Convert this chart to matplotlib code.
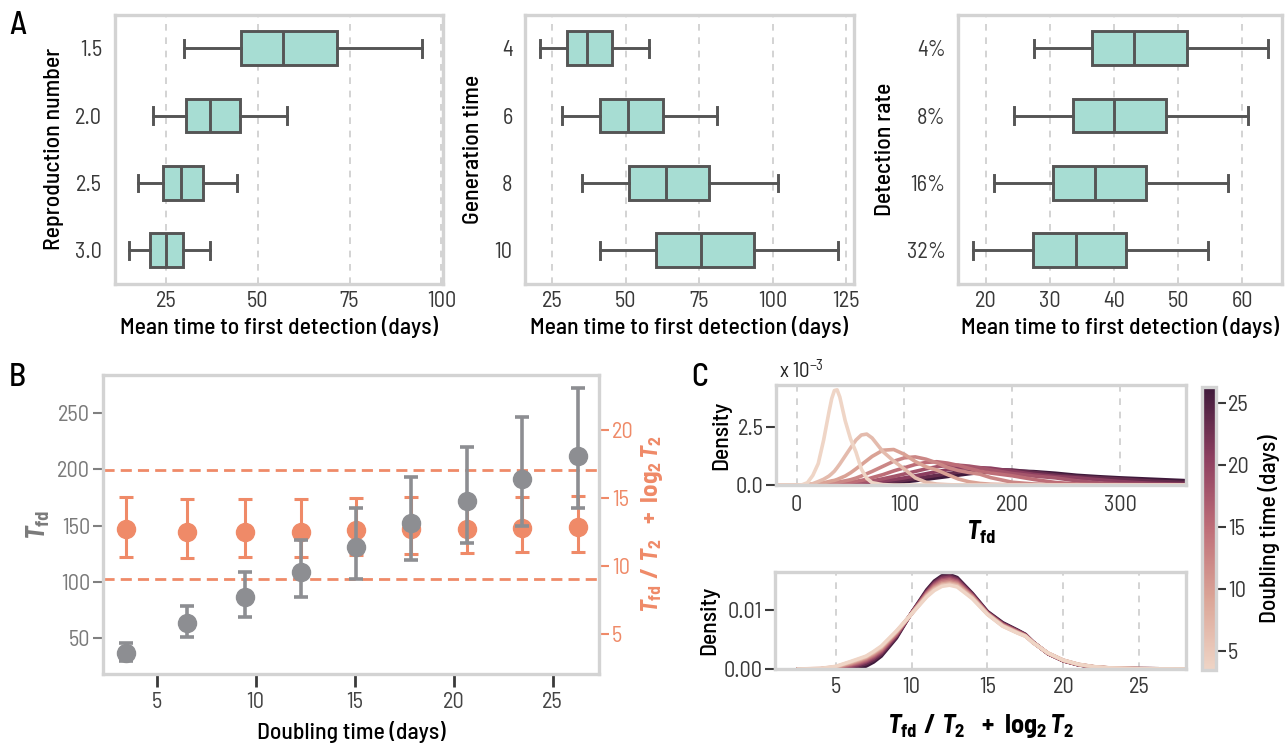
import numpy as np
import matplotlib
matplotlib.use("Agg")
import matplotlib.pyplot as plt
import matplotlib.font_manager as fm
from matplotlib.colors import Normalize, LinearSegmentedColormap
from matplotlib.cm import ScalarMappable

# ---------------- data ----------------
# Panel A: box statistics (whisker low, Q1, median, Q3, whisker high)
repro_labels = ["1.5", "2.0", "2.5", "3.0"]
repro_lo = [29.9, 21.4, 17.4, 15.1]
repro_q1 = [45.4, 30.4, 24.3, 20.7]
repro_med = [56.8, 37.1, 29.2, 25.0]
repro_q3 = [71.5, 45.2, 35.0, 29.6]
repro_hi = [94.6, 58.0, 44.3, 37.0]

gen_labels = ["4", "6", "8", "10"]
gen_lo = [21.0, 28.5, 35.2, 41.4]
gen_q1 = [30.2, 41.3, 51.3, 60.5]
gen_med = [36.9, 51.0, 63.8, 75.5]
gen_q3 = [45.3, 62.6, 78.5, 93.8]
gen_hi = [57.9, 81.0, 102.0, 122.1]

det_labels = ["4%", "8%", "16%", "32%"]
det_lo = [27.5, 24.3, 21.2, 18.0]
det_q1 = [36.5, 33.5, 30.4, 27.3]
det_med = [43.1, 40.0, 37.0, 34.1]
det_q3 = [51.3, 48.1, 45.0, 41.9]
det_hi = [64.0, 60.9, 57.8, 54.7]

# Panel B
doubling_time = [3.46, 6.54, 9.45, 12.27, 15.05, 17.87, 20.68, 23.47, 26.30]
tfd_mean = [36.7, 63.3, 86.9, 108.8, 130.6, 151.9, 171.4, 191.5, 211.6]
tfd_low = [30.0, 50.9, 69.2, 86.3, 102.9, 119.4, 134.8, 149.9, 165.8]
tfd_high = [45.6, 78.7, 109.1, 137.1, 165.8, 192.7, 219.3, 245.9, 271.6]
norm_mean = [12.67, 12.50, 12.50, 12.50, 12.62, 12.70, 12.72, 12.75, 12.82]
norm_low = [10.61, 10.54, 10.61, 10.66, 10.78, 10.86, 10.96, 10.98, 11.03]
norm_high = [15.05, 14.88, 14.88, 14.88, 15.00, 15.02, 15.02, 15.07, 15.12]
norm_band = [9.0, 17.0]

# Panel C top: density of T_fd (units of 1e-3), one row per doubling time
tfd_grid = [-20, 0, 5, 10, 15, 20, 25, 30, 32.5, 35, 37.5, 40, 45, 50, 55, 60, 65, 70,
            80, 90, 100, 110, 120, 130, 140, 150, 160, 170, 180, 200, 220, 240, 260,
            280, 300, 330, 360]
tfd_density_e3 = [
    [0, 0, 0.01, 0.10, 0.42, 0.93, 1.95, 3.18, 3.75, 4.10, 4.13, 3.82, 2.79, 2.00, 1.43,
     0.69, 0.29, 0.10, 0.015, 0, 0, 0, 0, 0, 0, 0, 0, 0, 0, 0, 0, 0, 0, 0, 0, 0, 0],
    [0, 0, 0.005, 0.02, 0.06, 0.15, 0.25, 0.39, 0.49, 0.60, 0.75, 0.91, 1.26, 1.61, 1.95,
     2.17, 2.21, 2.04, 1.45, 1.04, 0.69, 0.31, 0.12, 0.04, 0.015, 0, 0, 0, 0, 0, 0, 0, 0,
     0, 0, 0, 0],
    [0, 0, 0.005, 0.015, 0.03, 0.06, 0.10, 0.15, 0.18, 0.20, 0.24, 0.29, 0.39, 0.53, 0.70,
     0.88, 1.06, 1.24, 1.51, 1.54, 1.33, 1.02, 0.79, 0.65, 0.45, 0.26, 0.14, 0.07, 0.033,
     0.009, 0, 0, 0, 0, 0, 0, 0],
    [0, 0, 0.003, 0.01, 0.02, 0.03, 0.06, 0.08, 0.09, 0.10, 0.12, 0.14, 0.18, 0.23, 0.30,
     0.39, 0.49, 0.59, 0.81, 1.03, 1.18, 1.22, 1.12, 0.96, 0.76, 0.63, 0.54, 0.47, 0.32,
     0.12, 0.044, 0.014, 0.004, 0, 0, 0, 0],
    [0, 0, 0.001, 0.007, 0.012, 0.022, 0.034, 0.046, 0.053, 0.061, 0.07, 0.079, 0.10, 0.13,
     0.16, 0.20, 0.25, 0.32, 0.45, 0.61, 0.75, 0.89, 0.98, 1.01, 0.95, 0.85, 0.72, 0.60,
     0.52, 0.40, 0.24, 0.11, 0.045, 0.018, 0.008, 0.002, 0],
    [0, 0.001, 0.003, 0.006, 0.008, 0.015, 0.022, 0.030, 0.033, 0.038, 0.044, 0.049, 0.062,
     0.076, 0.097, 0.12, 0.15, 0.18, 0.27, 0.37, 0.48, 0.59, 0.70, 0.79, 0.85, 0.86, 0.82,
     0.75, 0.66, 0.50, 0.39, 0.31, 0.18, 0.092, 0.044, 0.017, 0.005],
    [0, 0.001, 0.002, 0.003, 0.005, 0.008, 0.011, 0.016, 0.018, 0.021, 0.025, 0.030, 0.038,
     0.049, 0.060, 0.075, 0.090, 0.11, 0.17, 0.24, 0.31, 0.40, 0.49, 0.58, 0.66, 0.72, 0.75,
     0.75, 0.73, 0.60, 0.46, 0.37, 0.31, 0.23, 0.15, 0.07, 0.03],
    [0, 0.001, 0.001, 0.002, 0.002, 0.003, 0.005, 0.007, 0.008, 0.010, 0.012, 0.015, 0.02,
     0.027, 0.035, 0.044, 0.056, 0.069, 0.10, 0.16, 0.21, 0.28, 0.35, 0.42, 0.49, 0.56, 0.61,
     0.65, 0.67, 0.65, 0.55, 0.44, 0.36, 0.31, 0.26, 0.17, 0.11],
    [0, 0, 0, 0, 0, 0, 0, 0, 0, 0, 0, 0, 0.002, 0.006, 0.013, 0.019, 0.029, 0.039, 0.066,
     0.10, 0.14, 0.19, 0.25, 0.31, 0.37, 0.43, 0.49, 0.54, 0.58, 0.61, 0.58, 0.51, 0.42,
     0.36, 0.31, 0.25, 0.19],
]

# Panel C bottom: density of T_fd/T2 + log2 T2 (units of 1e-3)
z_grid = [2.5, 4, 5, 6, 6.5, 7, 7.5, 8, 9, 10, 11, 11.5, 12, 12.5, 13, 14, 15, 16, 17,
          17.5, 18, 19, 20, 21, 22, 23, 25, 28]
z_density_e3 = [
    [0, 0.1, 0.45, 1.3, 1.75, 2.2, 3.0, 3.9, 6.5, 9.4, 12.3, 13.4, 14.1, 14.3, 14.0, 12.0,
     9.3, 7.3, 6.1, 5.6, 4.5, 2.7, 1.5, 0.8, 0.4, 0.2, 0.05, 0.01],
    [0, 0.08, 0.4, 1.2, 1.62, 2.1, 2.85, 3.75, 6.4, 9.4, 12.45, 13.6, 14.3, 14.5, 14.2, 12.1,
     9.35, 7.35, 6.15, 5.6, 4.5, 2.7, 1.5, 0.8, 0.4, 0.2, 0.05, 0.01],
    [0, 0.06, 0.33, 1.05, 1.48, 1.95, 2.7, 3.6, 6.3, 9.45, 12.6, 13.8, 14.5, 14.7, 14.4,
     12.25, 9.4, 7.4, 6.2, 5.65, 4.5, 2.7, 1.5, 0.78, 0.39, 0.19, 0.05, 0.01],
    [0, 0.04, 0.27, 0.9, 1.3, 1.8, 2.5, 3.4, 6.2, 9.45, 12.75, 14.0, 14.75, 14.95, 14.6,
     12.35, 9.45, 7.5, 6.25, 5.7, 4.55, 2.65, 1.45, 0.76, 0.38, 0.18, 0.05, 0.01],
    [0, 0.03, 0.2, 0.75, 1.12, 1.6, 2.3, 3.2, 6.0, 9.5, 12.9, 14.2, 15.0, 15.2, 14.8, 12.45,
     9.5, 7.55, 6.3, 5.7, 4.55, 2.65, 1.45, 0.75, 0.37, 0.17, 0.05, 0.01],
    [0, 0.02, 0.14, 0.6, 0.95, 1.4, 2.1, 3.0, 5.9, 9.5, 13.0, 14.4, 15.2, 15.4, 15.0, 12.55,
     9.55, 7.6, 6.4, 5.75, 4.55, 2.65, 1.45, 0.74, 0.37, 0.17, 0.05, 0.01],
    [0, 0.01, 0.08, 0.4, 0.75, 1.2, 1.85, 2.8, 5.7, 9.55, 13.15, 14.6, 15.45, 15.65, 15.2,
     12.65, 9.6, 7.7, 6.45, 5.8, 4.6, 2.6, 1.4, 0.72, 0.36, 0.16, 0.05, 0.01],
    [0, 0, 0.04, 0.2, 0.5, 0.9, 1.55, 2.5, 5.5, 9.6, 13.3, 14.8, 15.7, 15.9, 15.4, 12.8,
     9.7, 7.8, 6.5, 5.85, 4.6, 2.6, 1.4, 0.71, 0.35, 0.15, 0.05, 0.01],
    [0, 0, 0, 0, 0.05, 0.5, 1.2, 2.2, 5.3, 9.6, 13.5, 15.0, 15.9, 16.1, 15.6, 12.9, 9.8,
     7.9, 6.6, 5.9, 4.6, 2.6, 1.4, 0.7, 0.35, 0.15, 0.05, 0.01],
]

# ---------------- fonts ----------------
def pick_font():
    ttf = fm.fontManager.ttflist
    names = {f.name for f in ttf}
    for c in ["Barlow Semi Condensed", "Barlow Condensed", "Roboto Condensed",
              "Liberation Sans Narrow", "Arial Narrow", "Open Sans Condensed"]:
        if c in names:
            return c, "normal"
    for fam in ["Roboto", "Noto Sans", "Open Sans", "DejaVu Sans"]:
        st = {str(f.stretch) for f in ttf if f.name == fam}
        for s in ("semi-condensed", "condensed"):
            if s in st:
                return fam, s
    return "Roboto", "normal"

FONT, STRETCH = pick_font()
plt.rcParams["font.family"] = [FONT, "DejaVu Sans"]
plt.rcParams["font.stretch"] = STRETCH
plt.rcParams["mathtext.fontset"] = "custom"
plt.rcParams["mathtext.rm"] = FONT + ":bold"
plt.rcParams["mathtext.it"] = FONT + ":italic:bold"
plt.rcParams["mathtext.bf"] = FONT + ":bold"

# ---------------- style ----------------
W, H = 1286, 744
SPINE = "#d3d3d3"
BOX_FACE = "#a7ddd3"
BOX_EDGE = "#555555"
GRAY = "#8d8e92"
ORANGE = "#ef8a68"
TXT = "#383838"
GRID = "#cccccc"
TICK_FS = 16
LAB_FS = 17
LAB_W = "medium"
SPINE_LW = 2.4

fig = plt.figure(figsize=(W / 100, H / 100), dpi=100)


def ax_at(l, t, r, b):
    return fig.add_axes([l / W, 1 - b / H, (r - l) / W, (b - t) / H])


def style_spines(ax):
    for s in ax.spines.values():
        s.set_color(SPINE)
        s.set_linewidth(SPINE_LW)


def box_panel(ax, labels, lo, q1, med, q3, hi, xlim, xticks, ylabel):
    stats = [dict(whislo=lo[i], q1=q1[i], med=med[i], q3=q3[i], whishi=hi[i], fliers=[])
             for i in range(len(labels))]
    lp = dict(color=BOX_EDGE, linewidth=2.1)
    ax.bxp(stats, positions=range(len(labels)), widths=0.5, orientation="horizontal",
           patch_artist=True, showfliers=False, capwidths=0.25,
           boxprops=dict(facecolor=BOX_FACE, edgecolor=BOX_EDGE, linewidth=2.1),
           medianprops=lp, whiskerprops=lp, capprops=lp)
    ax.set_ylim(len(labels) - 0.5, -0.5)
    ax.set_yticks(range(len(labels)), labels)
    ax.set_xlim(*xlim)
    ax.set_xticks(xticks)
    ax.set_axisbelow(True)
    ax.xaxis.grid(True, linestyle=(0, (4, 4)), color=GRID, linewidth=1.2)
    ax.tick_params(axis="y", length=0, labelsize=TICK_FS, labelcolor=TXT, pad=9)
    ax.tick_params(axis="x", length=0, labelsize=TICK_FS, labelcolor=TXT, pad=5)
    ax.set_xlabel("Mean time to first detection (days)", fontsize=LAB_FS, weight=LAB_W,
                  labelpad=3)
    ax.set_ylabel(ylabel, fontsize=LAB_FS, weight=LAB_W, labelpad=8)
    style_spines(ax)


axA1 = ax_at(114.5, 14.5, 442.5, 284)
box_panel(axA1, repro_labels, repro_lo, repro_q1, repro_med, repro_q3, repro_hi,
          (11.05, 100.3), [25, 50, 75, 100], "Reproduction number")
axA2 = ax_at(525, 14.5, 854, 284)
box_panel(axA2, gen_labels, gen_lo, gen_q1, gen_med, gen_q3, gen_hi,
          (15.8, 127.7), [25, 50, 75, 100, 125], "Generation time")
axA3 = ax_at(958, 14.5, 1282, 284)
box_panel(axA3, det_labels, det_lo, det_q1, det_med, det_q3, det_hi,
          (15.6, 66.2), [20, 30, 40, 50, 60], "Detection rate")

# ---------------- panel B ----------------
axB = ax_at(102.7, 375, 599.3, 674)
axB2 = axB.twinx()
axB.set_zorder(axB2.get_zorder() + 1)
axB.patch.set_visible(False)

for v in norm_band:
    axB2.axhline(v, color=ORANGE, lw=2, linestyle=(0, (4, 2.2)), zorder=1)
nm = np.array(norm_mean)
axB2.errorbar(doubling_time, nm, yerr=[nm - np.array(norm_low), np.array(norm_high) - nm],
              fmt="o", color=ORANGE, ms=13, elinewidth=2.2, capsize=5, capthick=2.2, zorder=3)
tm = np.array(tfd_mean)
axB.errorbar(doubling_time, tm, yerr=[tm - np.array(tfd_low), np.array(tfd_high) - tm],
             fmt="o", color=GRAY, ms=13, elinewidth=2.6, capsize=5, capthick=2.6, zorder=3)

axB.set_xlim(2.28, 27.36)
axB.set_ylim(18.4, 283.4)
axB2.set_ylim(2.03, 24.02)
axB.set_xticks([5, 10, 15, 20, 25])
axB.set_yticks([50, 100, 150, 200, 250])
axB2.set_yticks([5, 10, 15, 20])
axB.tick_params(axis="x", length=9, width=2, color="#3a3a3a", labelcolor="#444444",
                labelsize=TICK_FS, pad=4)
axB.tick_params(axis="y", length=7, width=1.5, color="#808080", labelcolor="#7a7a7a",
                labelsize=TICK_FS, pad=2)
axB2.tick_params(axis="y", length=7, width=1.5, color=ORANGE, labelcolor=ORANGE,
                 labelsize=TICK_FS, pad=2)
style_spines(axB)
for s in axB2.spines.values():
    s.set_visible(False)
axB.set_xlabel("Doubling time (days)", fontsize=LAB_FS, weight=LAB_W, labelpad=6)
axB.set_ylabel(r"$T_{\mathrm{fd}}$", fontsize=19, color="#7a7a7a", labelpad=4)
axB2.set_ylabel(r"$T_{\mathrm{fd}}\ /\ T_2\ \ +\ \mathrm{log}_2\,T_2$", fontsize=18,
                color=ORANGE, labelpad=4)

# ---------------- panel C ----------------
cmap = LinearSegmentedColormap.from_list(
    "doubling", ["#efd5c6", "#dba597", "#be6e78", "#8d3f60", "#3f1a3b"])
cnorm = Normalize(vmin=min(doubling_time), vmax=max(doubling_time))

axC1 = ax_at(776, 385, 1185.7, 485)
for i in reversed(range(len(doubling_time))):
    axC1.plot(tfd_grid, tfd_density_e3[i], color=cmap(cnorm(doubling_time[i])), lw=2.6,
              solid_capstyle="round")
axC1.set_xlim(-19.2, 361)
axC1.set_ylim(0, 4.34)
axC1.set_xticks([0, 100, 200, 300])
axC1.set_yticks([0, 2.5], ["0.0", "2.5"])
axC1.set_axisbelow(True)
axC1.xaxis.grid(True, linestyle=(0, (4, 4)), color=GRID, linewidth=1.2)
axC1.tick_params(axis="x", length=0, labelsize=TICK_FS, labelcolor=TXT, pad=7)
axC1.tick_params(axis="y", length=7, width=1.5, color="#3a3a3a", labelsize=TICK_FS,
                 labelcolor=TXT, pad=2)
axC1.set_xlabel(r"$T_{\mathrm{fd}}$", fontsize=19, labelpad=2)
axC1.set_ylabel("Density", fontsize=LAB_FS, weight=LAB_W, labelpad=3)
style_spines(axC1)
fig.text(779 / W, 1 - 371 / H, r"x 10$^{\mathregular{-3}}$", fontsize=15, color="#222222",
         va="center", ha="left")

axC2 = ax_at(775, 571.7, 1185.7, 669)
zg = np.array(z_grid)
for i in reversed(range(len(doubling_time))):
    axC2.plot(zg, np.array(z_density_e3[i]) * 1e-3, color=cmap(cnorm(doubling_time[i])),
              lw=2.6, solid_capstyle="round")
axC2.set_xlim(1.0, 28.06)
axC2.set_ylim(0, 0.0166)
axC2.set_xticks([5, 10, 15, 20, 25])
axC2.set_yticks([0, 0.01], ["0.00", "0.01"])
axC2.set_axisbelow(True)
axC2.xaxis.grid(True, linestyle=(0, (4, 4)), color=GRID, linewidth=1.2)
axC2.tick_params(axis="x", length=0, labelsize=TICK_FS, labelcolor=TXT, pad=6)
axC2.tick_params(axis="y", length=7, width=1.5, color="#3a3a3a", labelsize=TICK_FS,
                 labelcolor=TXT, pad=2)
axC2.set_xlabel(r"$T_{\mathrm{fd}}\ /\ T_2\ \ +\ \mathrm{log}_2\,T_2$", fontsize=19,
                labelpad=10)
axC2.set_ylabel("Density", fontsize=LAB_FS, weight=LAB_W, labelpad=3)
style_spines(axC2)

cax = ax_at(1201.5, 386.5, 1215.5, 670)
cb = fig.colorbar(ScalarMappable(norm=cnorm, cmap=cmap), cax=cax)
cb.outline.set_edgecolor(SPINE)
cb.outline.set_linewidth(SPINE_LW)
cb.set_ticks([5, 10, 15, 20, 25])
cax.tick_params(length=7, width=1.5, color="#3a3a3a", labelsize=TICK_FS, labelcolor=TXT, pad=2)
cb.set_label("Doubling time (days)", fontsize=LAB_FS, weight=LAB_W, labelpad=6)

# panel letters
fig.text(9 / W, 1 - 26 / H, "A", fontsize=23, weight="medium", va="center", ha="left")
fig.text(9 / W, 1 - 377 / H, "B", fontsize=23, weight="medium", va="center", ha="left")
fig.text(691 / W, 1 - 377 / H, "C", fontsize=23, weight="medium", va="center", ha="left")

fig.savefig("out.png", dpi=100, facecolor="white")
